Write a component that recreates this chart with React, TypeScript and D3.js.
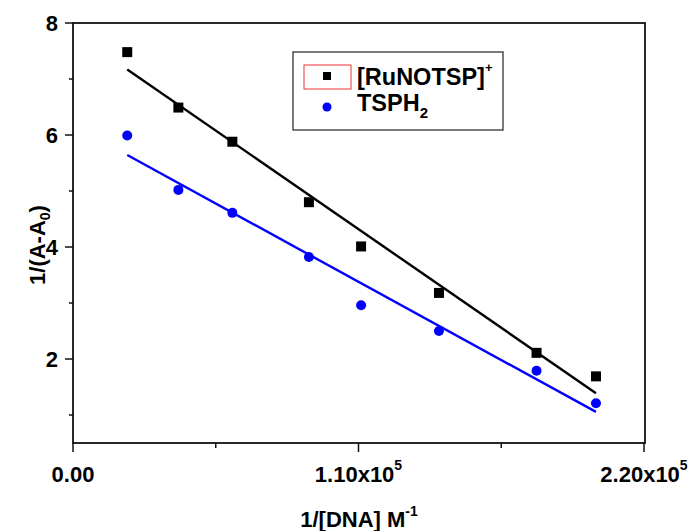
import React, { useEffect, useRef } from 'react';
import * as d3 from 'd3';

// 1/[DNA] values (M^-1)
const dnaInv = [20900, 40600, 61400, 90900, 111000, 141000, 178600, 201500];
// 1/(A-A0) for each compound
const ruValues = [7.48, 6.49, 5.88, 4.8, 4.01, 3.18, 2.11, 1.69];
const tsphValues = [5.99, 5.02, 4.61, 3.82, 2.96, 2.5, 1.79, 1.21];

const yMajorTicks = [2, 4, 6, 8];
const yMinorTicks = [1, 3, 5, 7];
const xMajorTicks = [0, 110000, 220000];
const xMinorTicks = [55000, 165000];
const xTickLabels = [['0.00', ''], ['1.10x10', '5'], ['2.20x10', '5']];

const FONT = '"Liberation Sans", Arial, sans-serif';

// least squares fit
const fit = (xs: number[], ys: number[]) => {
  const mx = d3.mean(xs) as number;
  const my = d3.mean(ys) as number;
  const sxy = d3.sum(xs, (x, i) => (x - mx) * (ys[i] - my));
  const sxx = d3.sum(xs, (x) => (x - mx) * (x - mx));
  const b = sxy / sxx;
  const a = my - b * mx;
  return (x: number) => a + b * x;
};

const Chart = () => {
  const ref = useRef<SVGSVGElement | null>(null);

  useEffect(() => {
    if (!ref.current) return;
    const svg = d3.select(ref.current);
    svg.selectAll('*').remove();

    const left = 73, right = 644, top = 23, bottom = 443;

    const x = d3.scaleLinear().domain([0, 220000]).range([left, right]);
    const y = d3.scaleLinear().domain([0.5, 8]).range([bottom, top]);

    // frame
    svg.append('rect')
      .attr('x', left).attr('y', top)
      .attr('width', right - left + 1).attr('height', bottom - top)
      .attr('fill', 'none').attr('stroke', '#111').attr('stroke-width', 1.8);

    // y ticks
    svg.selectAll('.ymaj').data(yMajorTicks).enter().append('line')
      .attr('x1', left - 8).attr('x2', left)
      .attr('y1', d => y(d)).attr('y2', d => y(d))
      .attr('stroke', '#111').attr('stroke-width', 1.5);
    svg.selectAll('.ymin').data(yMinorTicks).enter().append('line')
      .attr('x1', left - 4).attr('x2', left)
      .attr('y1', d => y(d)).attr('y2', d => y(d))
      .attr('stroke', '#111').attr('stroke-width', 1.5);
    svg.selectAll('.ylab').data(yMajorTicks).enter().append('text')
      .attr('x', left - 15).attr('y', d => y(d) + 8)
      .attr('text-anchor', 'end')
      .attr('font-family', FONT).attr('font-weight', 'bold').attr('font-size', 22)
      .text(d => d);

    // x ticks
    svg.selectAll('.xmaj').data(xMajorTicks).enter().append('line')
      .attr('x1', d => x(d)).attr('x2', d => x(d))
      .attr('y1', bottom).attr('y2', bottom + 9)
      .attr('stroke', '#111').attr('stroke-width', 1.5);
    svg.selectAll('.xmin').data(xMinorTicks).enter().append('line')
      .attr('x1', d => x(d)).attr('x2', d => x(d))
      .attr('y1', bottom).attr('y2', bottom + 5)
      .attr('stroke', '#111').attr('stroke-width', 1.5);
    const xl = svg.selectAll('.xlab').data(xMajorTicks).enter().append('text')
      .attr('x', d => x(d)).attr('y', 482)
      .attr('text-anchor', 'middle')
      .attr('font-family', FONT).attr('font-weight', 'bold').attr('font-size', 22);
    xl.append('tspan').text((d, i) => xTickLabels[i][0]);
    xl.append('tspan').attr('dy', -12).attr('font-size', 14).text((d, i) => xTickLabels[i][1]);

    // axis titles
    const xt = svg.append('text')
      .attr('x', 359).attr('y', 527).attr('text-anchor', 'middle')
      .attr('font-family', FONT).attr('font-weight', 'bold').attr('font-size', 22);
    xt.append('tspan').text('1/[DNA] M');
    xt.append('tspan').attr('dy', -11).attr('font-size', 14).text('-1');

    const yt = svg.append('text')
      .attr('transform', 'translate(45,245) rotate(-90)')
      .attr('text-anchor', 'middle')
      .attr('font-family', FONT).attr('font-weight', 'bold').attr('font-size', 22);
    yt.append('tspan').text('1/(A-A');
    yt.append('tspan').attr('dy', 5).attr('font-size', 14).text('0');
    yt.append('tspan').attr('dy', -5).text(')');

    // fit lines
    const series = [
      { vals: ruValues, color: '#000000' },
      { vals: tsphValues, color: '#0000ff' },
    ];
    const x0 = d3.min(dnaInv) as number;
    const x1 = d3.max(dnaInv) as number;
    series.forEach(s => {
      const f = fit(dnaInv, s.vals);
      svg.append('line')
        .attr('x1', x(x0)).attr('y1', y(f(x0)))
        .attr('x2', x(x1)).attr('y2', y(f(x1)))
        .attr('stroke', s.color).attr('stroke-width', 2.4);
    });

    // markers
    svg.selectAll('.sq').data(ruValues).enter().append('rect')
      .attr('x', (d, i) => x(dnaInv[i]) - 5).attr('y', d => y(d) - 5)
      .attr('width', 10).attr('height', 10).attr('fill', '#000');
    svg.selectAll('.ci').data(tsphValues).enter().append('circle')
      .attr('cx', (d, i) => x(dnaInv[i])).attr('cy', d => y(d))
      .attr('r', 5).attr('fill', '#0000ff');

    // legend
    const lg = svg.append('g');
    lg.append('rect').attr('x', 293).attr('y', 52).attr('width', 210).attr('height', 78)
      .attr('fill', '#fff').attr('stroke', '#333').attr('stroke-width', 1.3);
    lg.append('rect').attr('x', 304).attr('y', 65).attr('width', 47).attr('height', 24)
      .attr('fill', 'none').attr('stroke', '#ee3333').attr('stroke-width', 1);
    lg.append('rect').attr('x', 323).attr('y', 72).attr('width', 8).attr('height', 8).attr('fill', '#000');
    lg.append('circle').attr('cx', 327).attr('cy', 107).attr('r', 4.5).attr('fill', '#0000ff');
    const t1 = lg.append('text').attr('x', 357).attr('y', 85)
      .attr('font-family', FONT).attr('font-weight', 'bold').attr('font-size', 23.5);
    t1.append('tspan').text('[RuNOTSP]');
    t1.append('tspan').attr('dy', -13).attr('font-size', 13).text('+');
    const t2 = lg.append('text').attr('x', 357).attr('y', 111)
      .attr('font-family', FONT).attr('font-weight', 'bold').attr('font-size', 23.5);
    t2.append('tspan').text('TSPH');
    t2.append('tspan').attr('dy', 7).attr('font-size', 15).text('2');
  }, []);

  return <svg ref={ref} width={692} height={531} style={{ position: 'absolute', left: 0, top: 0 }} />;
};

export default function App() {
  return <Chart />;
}
